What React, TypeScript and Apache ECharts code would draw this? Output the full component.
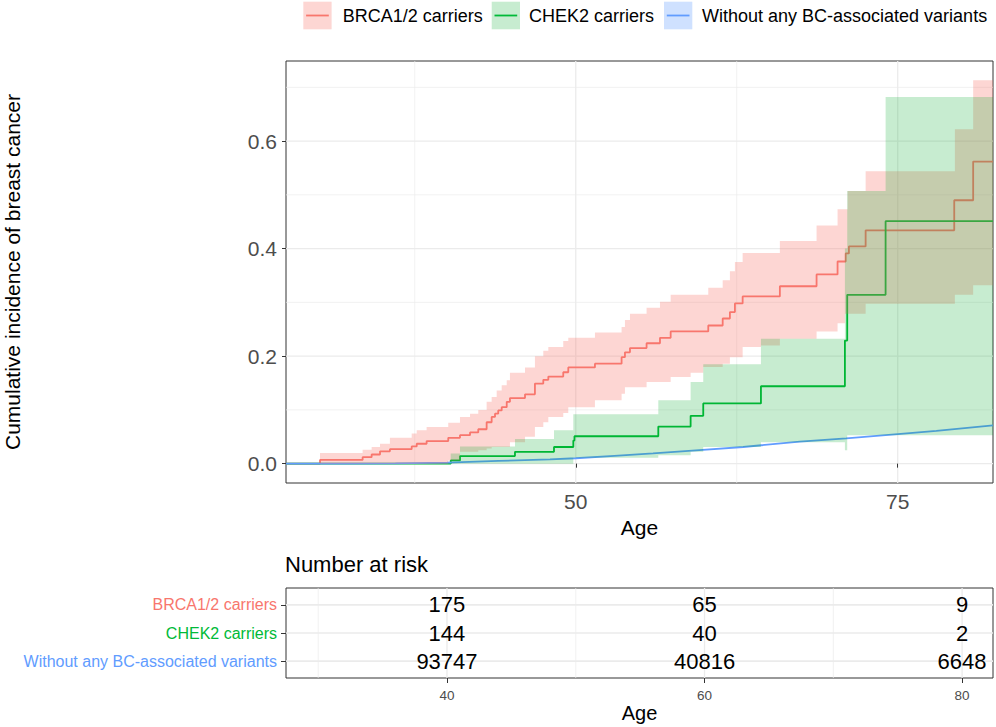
import React, { useEffect, useRef } from "react";
import * as echarts from "echarts";

const FONT = "'Liberation Sans', Arial, Helvetica, sans-serif";

const groupNames = ["BRCA1/2 carriers", "CHEK2 carriers", "Without any BC-associated variants"];
const lineColors = ["#F8766D", "#00BA38", "#619CFF"];
const fillColors = ["rgba(248,118,109,0.3)", "rgba(0,170,40,0.22)", "rgba(97,156,255,0.3)"];

const X_MIN = 27.5;
const X_MAX = 82.4;
const Y_MIN = -0.036;
const Y_MAX = 0.749;

const yTicks = [0, 0.2, 0.4, 0.6];
const yMinor = [0.1, 0.3, 0.5, 0.7];
const xTicks = [50, 75];
const xMinor = [37.5, 62.5];

// BRCA1/2 step curve
const brcaAges = [27.5, 30.14, 33.45, 34.15, 34.8, 35.57, 37.26, 37.65, 38.42, 40.1, 41.01, 41.79, 42.43, 43.08, 43.47, 43.73, 43.98, 44.25, 44.64, 44.89, 46.06, 46.83, 47.48, 47.87, 49.03, 49.42, 51.49, 53.56, 53.82, 54.21, 55.5, 56.54, 57.37, 60.29, 61.41, 61.97, 62.36, 62.96, 65.85, 68.7, 70.33, 70.96, 71.21, 72.51, 79.39, 80.86, 82.4];
const brcaValues = [0, 0.007, 0.012, 0.017, 0.023, 0.027, 0.032, 0.037, 0.042, 0.048, 0.053, 0.058, 0.064, 0.077, 0.087, 0.093, 0.099, 0.105, 0.115, 0.122, 0.129, 0.149, 0.156, 0.162, 0.17, 0.179, 0.186, 0.198, 0.207, 0.215, 0.224, 0.234, 0.246, 0.257, 0.27, 0.282, 0.298, 0.311, 0.33, 0.352, 0.376, 0.391, 0.404, 0.434, 0.49, 0.562, 0.562];
// BRCA1/2 confidence band
const brcaBandEdges = [30.14, 33.45, 34.15, 34.8, 35.57, 37.26, 37.65, 38.42, 40.1, 41.01, 41.79, 42.43, 43.08, 43.47, 43.86, 44.25, 44.64, 44.89, 46.06, 46.83, 47.48, 47.87, 49.03, 49.42, 51.49, 53.56, 53.82, 54.21, 55.5, 56.54, 57.37, 58.92, 59.9, 60.29, 61.41, 61.97, 62.36, 62.96, 64.38, 65.85, 68.7, 70.33, 70.9, 71.11, 72.51, 79.44, 80.86, 82.4];
const brcaBandLower = [0, 0, 0, 0, 0, 0, 0, 0, 0.006, 0.022, 0.022, 0.025, 0.028, 0.031, 0.031, 0.031, 0.031, 0.04, 0.05, 0.068, 0.077, 0.087, 0.094, 0.105, 0.118, 0.13, 0.142, 0.142, 0.152, 0.152, 0.161, 0.169, 0.18, 0.18, 0.186, 0.198, 0.198, 0.217, 0.22, 0.2325, 0.246, 0.261, 0.279, 0.279, 0.2975, 0.314, 0.332];
const brcaBandUpper = [0.02, 0.026, 0.031, 0.037, 0.048, 0.056, 0.062, 0.068, 0.076, 0.087, 0.093, 0.1, 0.115, 0.124, 0.136, 0.146, 0.155, 0.169, 0.179, 0.2, 0.21, 0.217, 0.228, 0.234, 0.244, 0.254, 0.267, 0.279, 0.29, 0.301, 0.314, 0.314, 0.314, 0.327, 0.341, 0.358, 0.375, 0.392, 0.392, 0.414, 0.443, 0.473, 0.473, 0.507, 0.544, 0.622, 0.713];

// CHEK2 step curve
const chekAges = [27.5, 40.29, 41.01, 45.28, 48.31, 49.81, 49.9, 56.41, 58.92, 59.9, 64.38, 70.9, 71.08, 74.06, 82.4];
const chekValues = [0, 0.006, 0.014, 0.022, 0.031, 0.043, 0.051, 0.069, 0.089, 0.112, 0.144, 0.229, 0.314, 0.451, 0.451];
// CHEK2 confidence band
const chekBandEdges = [40.29, 41.01, 45.28, 48.31, 49.81, 56.41, 58.92, 59.9, 64.38, 70.9, 71.08, 74.06, 82.4];
const chekBandLower = [0, 0, 0, 0, 0.011, 0.0155, 0.022, 0.031, 0.04, 0.025, 0.053, 0.053];
const chekBandUpper = [0.019, 0.032, 0.046, 0.062, 0.092, 0.118, 0.152, 0.185, 0.2325, 0.4, 0.507, 0.682];

// Without BC-associated variants
const noneAges = [27.5, 32, 36, 40, 44, 48, 50, 53, 56, 59.6, 63, 67.4, 71, 75, 78, 82.4];
const noneValues = [0, 0, 0.0005, 0.002, 0.005, 0.008, 0.01, 0.0145, 0.019, 0.025, 0.031, 0.041, 0.047, 0.055, 0.061, 0.071];

// Risk table
const riskAges = [40, 60, 80];
const brcaRisk = [175, 65, 9];
const chekRisk = [144, 40, 2];
const noneRisk = [93747, 40816, 6648];
const riskRows = [3, 2, 1];
const tableXTicks = [40, 60, 80];
const tableXMinor = [30, 50, 70];
const T_Y_MIN = 0.4;
const T_Y_MAX = 3.6;

const pairs = (xs: number[], ys: number[]) => xs.map((x, i) => [x, ys[i]]);

function bandPoints(api: any, edges: number[], lo: number[], hi: number[]) {
  const pts: number[][] = [];
  for (let i = 0; i < hi.length; i++) {
    pts.push(api.coord([edges[i], hi[i]]));
    pts.push(api.coord([edges[i + 1], hi[i]]));
  }
  for (let i = lo.length - 1; i >= 0; i--) {
    pts.push(api.coord([edges[i + 1], lo[i]]));
    pts.push(api.coord([edges[i], lo[i]]));
  }
  return pts;
}

function gridSeries(values: number[], vertical: boolean, width: number, gi: number, yMin: number, yMax: number) {
  return {
    type: "custom",
    xAxisIndex: gi,
    yAxisIndex: gi,
    silent: true,
    z: 0,
    data: values.map((v) => [v]),
    renderItem: (params: any, api: any) => {
      const v = api.value(0);
      const a = vertical ? api.coord([v, yMin]) : api.coord([X_MIN, v]);
      const b = vertical ? api.coord([v, yMax]) : api.coord([X_MAX, v]);
      return {
        type: "line",
        shape: { x1: a[0], y1: a[1], x2: b[0], y2: b[1] },
        style: { stroke: "#EBEBEB", lineWidth: width },
      };
    },
  };
}

function bandSeries(name: string, edges: number[], lo: number[], hi: number[], fill: string) {
  return {
    type: "custom",
    name,
    xAxisIndex: 0,
    yAxisIndex: 0,
    silent: true,
    z: 3,
    data: [[edges[0], lo[0]]],
    renderItem: (params: any, api: any) => ({
      type: "polygon",
      shape: { points: bandPoints(api, edges, lo, hi) },
      style: { fill, stroke: "none" },
    }),
  };
}

function lineSeries(name: string, xs: number[], ys: number[], color: string, step: boolean) {
  return {
    type: "line",
    name,
    xAxisIndex: 0,
    yAxisIndex: 0,
    data: pairs(xs, ys),
    step: step ? "end" : false,
    showSymbol: false,
    symbol: "none",
    smooth: false,
    z: 2,
    lineStyle: { color, width: 1.8 },
    silent: true,
  };
}

export default function App() {
  const ref = useRef<HTMLDivElement>(null);
  useEffect(() => {
    if (!ref.current) return;
    const chart = echarts.init(ref.current, undefined, { renderer: "svg" });

    const tableData: number[][] = [];
    [brcaRisk, chekRisk, noneRisk].forEach((arr, gi) => {
      arr.forEach((n, i) => tableData.push([riskAges[i], riskRows[gi], n]));
    });

    const legendGraphics: any[] = [];
    const keyX = [303.3, 491.7, 664];
    const textX = [342.7, 529, 702];
    groupNames.forEach((name, i) => {
      legendGraphics.push({
        type: "rect",
        shape: { x: keyX[i], y: 1.7, width: 28.3, height: 27.6 },
        style: { fill: fillColors[i] },
      });
      legendGraphics.push({
        type: "line",
        shape: { x1: keyX[i] + 2.8, y1: 15.5, x2: keyX[i] + 25.5, y2: 15.5 },
        style: { stroke: lineColors[i], lineWidth: 1.8 },
      });
      legendGraphics.push({
        type: "text",
        x: textX[i],
        y: 15.8,
        style: { text: name, fontSize: 18, fontFamily: FONT, fill: "#000", align: "left", verticalAlign: "middle" },
      });
    });

    const option: any = {
      animation: false,
      textStyle: { fontFamily: FONT },
      title: {
        text: "Number at risk",
        left: 285,
        top: 553,
        padding: 0,
        textStyle: { fontSize: 22, fontWeight: "normal", color: "#000", fontFamily: FONT },
      },
      graphic: legendGraphics,
      grid: [
        { left: 286, top: 61, width: 707, height: 422, show: true, borderColor: "#333333", borderWidth: 1, backgroundColor: "transparent", containLabel: false, outerBoundsMode: "none" },
        { left: 286, top: 588, width: 707, height: 90, show: true, borderColor: "#333333", borderWidth: 1, backgroundColor: "transparent", containLabel: false, outerBoundsMode: "none" },
      ],
      xAxis: [
        {
          type: "value",
          gridIndex: 0,
          min: X_MIN,
          max: X_MAX,
          name: "Age",
          nameLocation: "middle",
          nameGap: 27,
          nameTextStyle: { fontSize: 21, color: "#000", fontFamily: FONT },
          axisLine: { show: false },
          splitLine: { show: false },
          axisTick: { show: true, customValues: xTicks, length: 4, lineStyle: { color: "#333333", width: 1 } },
          axisLabel: { customValues: xTicks, fontSize: 21, color: "#4D4D4D", margin: 8, fontFamily: FONT },
        },
        {
          type: "value",
          gridIndex: 1,
          min: X_MIN,
          max: X_MAX,
          name: "Age",
          nameLocation: "middle",
          nameGap: 25,
          nameTextStyle: { fontSize: 20, color: "#000", fontFamily: FONT },
          axisLine: { show: false },
          splitLine: { show: false },
          axisTick: { show: true, customValues: tableXTicks, length: 5, lineStyle: { color: "#333333", width: 1 } },
          axisLabel: { customValues: tableXTicks, fontSize: 13.5, color: "#4D4D4D", margin: 10, fontFamily: FONT },
        },
      ],
      yAxis: [
        {
          type: "value",
          gridIndex: 0,
          min: Y_MIN,
          max: Y_MAX,
          name: "Cumulative incidence of breast cancer",
          nameLocation: "middle",
          nameRotate: 90,
          nameGap: 263,
          nameTextStyle: { fontSize: 21, color: "#000", fontFamily: FONT },
          axisLine: { show: false },
          splitLine: { show: false },
          axisTick: { show: true, customValues: yTicks, length: 4, lineStyle: { color: "#333333", width: 1 } },
          axisLabel: {
            customValues: yTicks,
            fontSize: 21,
            color: "#4D4D4D",
            margin: 9,
            fontFamily: FONT,
            formatter: (v: number) => Number(v).toFixed(1),
          },
        },
        {
          type: "value",
          gridIndex: 1,
          min: T_Y_MIN,
          max: T_Y_MAX,
          axisLine: { show: false },
          splitLine: { show: false },
          axisTick: { show: true, customValues: riskRows, length: 5, lineStyle: { color: "#333333", width: 1 } },
          axisLabel: {
            customValues: riskRows,
            fontSize: 16,
            margin: 9,
            fontFamily: FONT,
            formatter: (v: number) => {
              const gi = 3 - Math.round(Number(v));
              return "{g" + gi + "|" + groupNames[gi] + "}";
            },
            rich: {
              g0: { color: lineColors[0], fontSize: 16, fontFamily: FONT },
              g1: { color: lineColors[1], fontSize: 16, fontFamily: FONT },
              g2: { color: lineColors[2], fontSize: 16, fontFamily: FONT },
            },
          },
        },
      ],
      series: [
        gridSeries(yMinor, false, 0.7, 0, Y_MIN, Y_MAX),
        gridSeries(xMinor, true, 0.7, 0, Y_MIN, Y_MAX),
        gridSeries(yTicks, false, 1.3, 0, Y_MIN, Y_MAX),
        gridSeries(xTicks, true, 1.3, 0, Y_MIN, Y_MAX),
        gridSeries(tableXMinor, true, 0.7, 1, T_Y_MIN, T_Y_MAX),
        gridSeries(tableXTicks, true, 1.3, 1, T_Y_MIN, T_Y_MAX),
        gridSeries(riskRows, false, 1.6, 1, T_Y_MIN, T_Y_MAX),
        lineSeries(groupNames[0], brcaAges, brcaValues, lineColors[0], true),
        lineSeries(groupNames[1], chekAges, chekValues, lineColors[1], true),
        lineSeries(groupNames[2], noneAges, noneValues, lineColors[2], false),
        bandSeries(groupNames[0] + " CI", brcaBandEdges, brcaBandLower, brcaBandUpper, fillColors[0]),
        bandSeries(groupNames[1] + " CI", chekBandEdges, chekBandLower, chekBandUpper, fillColors[1]),
        {
          type: "custom",
          name: "Number at risk",
          xAxisIndex: 1,
          yAxisIndex: 1,
          silent: true,
          z: 4,
          data: tableData,
          encode: { x: 0, y: 1 },
          renderItem: (params: any, api: any) => {
            const p = api.coord([api.value(0), api.value(1)]);
            return {
              type: "text",
              x: p[0],
              y: p[1],
              style: {
                text: String(api.value(2)),
                fontSize: 22,
                fontFamily: FONT,
                fill: "#000",
                align: "center",
                verticalAlign: "middle",
              },
            };
          },
        },
      ],
    };
    chart.setOption(option);
    return () => chart.dispose();
  }, []);

  return <div ref={ref} style={{ width: 996, height: 727, position: "absolute", left: 0, top: 0 }} />;
}
